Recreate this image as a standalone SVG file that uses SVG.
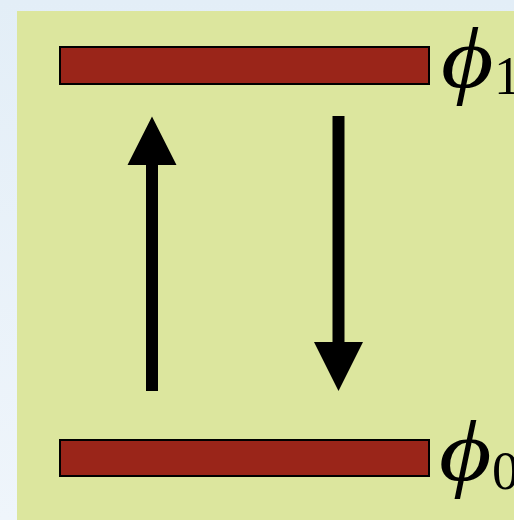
<svg xmlns="http://www.w3.org/2000/svg" width="514" height="520" viewBox="0 0 514 520">
<defs>
<linearGradient id="bg" x1="0" y1="0" x2="0" y2="1">
<stop offset="0" stop-color="#e3eef7"/>
<stop offset="1" stop-color="#eff5fb"/>
</linearGradient>
</defs>
<style>
.lvl{fill:#9a2519;stroke:#000;stroke-width:2}
.arr{fill:#000}
.phi{font-family:"Liberation Serif","DejaVu Serif",serif;font-style:italic;font-size:86px;fill:#000}
.sub{font-family:"Liberation Serif","DejaVu Serif",serif;font-size:54px;fill:#000}
</style>
<rect x="0" y="0" width="514" height="520" fill="url(#bg)"/>
<rect x="17" y="11" width="497" height="509" fill="#dce69e"/>
<g id="level1">
<rect class="lvl" x="60" y="47" width="369" height="37"/>
<text class="phi" transform="translate(441,87) scale(1.18,1)">ϕ</text>
<text class="sub" x="494" y="94">1</text>
</g>
<g id="level0">
<rect class="lvl" x="60" y="440" width="369" height="36"/>
<text class="phi" transform="translate(439,480) scale(1.18,1)">ϕ</text>
<text class="sub" x="492" y="489">0</text>
</g>
<g id="connectors">
<polygon class="arr" points="146,391 158,391 158,165 176.5,165 152,116.5 127.5,165 146,165"/>
<polygon class="arr" points="332.5,116 344.5,116 344.5,342 363,342 338.5,391 314,342 332.5,342"/>
</g>
</svg>
